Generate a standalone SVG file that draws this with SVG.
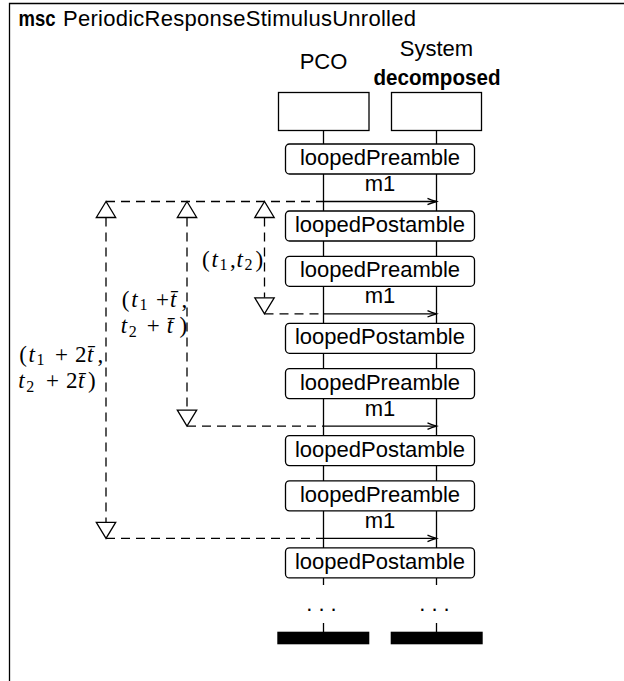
<svg xmlns="http://www.w3.org/2000/svg" width="624" height="681" viewBox="0 0 624 681">
  <style>
    .lbl { font-family: "Liberation Sans", Arial, sans-serif; font-size: 22px; fill: #000; }
    .bold { font-weight: bold; }
    .mid { text-anchor: middle; }
    .math { font-family: "Liberation Serif", "Times New Roman", serif; font-size: 23px; fill: #000; }
    .it { font-style: italic; }
    .sub { font-size: 16px; }
    .line { stroke: #000; stroke-width: 1.3; fill: none; }
    .dash { stroke: #000; stroke-width: 1.3; fill: none; stroke-dasharray: 9 6; }
    .act { fill: #fff; stroke: #000; stroke-width: 1.3; }
    .tri { fill: #fff; stroke: #000; stroke-width: 1.3; stroke-linejoin: miter; }
  </style>
  <defs>
    <marker id="head" markerUnits="userSpaceOnUse" markerWidth="12" markerHeight="10" refX="10" refY="5" orient="auto">
      <path d="M1,1.8 Q5,3.6 10,5 Q5,6.4 1,8.2" fill="none" stroke="#000" stroke-width="1.3"/>
    </marker>
    <!-- timer start / end marks -->
    <path id="tri-up" d="M0,0 L-9.7,16 L9.7,16 Z"/>
    <path id="tri-down" d="M0,0 L-9.7,-16 L9.7,-16 Z"/>
  </defs>

  <rect width="624" height="681" fill="#fff"/>

  <!-- msc frame and title -->
  <g id="frame">
    <path class="line" d="M9.5,681 V3.5 H624"/>
    <text class="lbl bold" x="18.5" y="25.7" textLength="37" lengthAdjust="spacingAndGlyphs">msc</text>
    <text class="lbl" x="63" y="25.7" textLength="353">PeriodicResponseStimulusUnrolled</text>
  </g>

  <!-- instance heads -->
  <g id="instance-pco">
    <text class="lbl mid" x="323.5" y="69.3">PCO</text>
    <rect class="act" x="278.5" y="92.5" width="90.5" height="38"/>
  </g>
  <g id="instance-system">
    <text class="lbl mid" x="436.5" y="56">System</text>
    <text class="lbl bold mid" x="437" y="85" textLength="127" lengthAdjust="spacingAndGlyphs">decomposed</text>
    <rect class="act" x="391.5" y="92.5" width="90" height="38"/>
  </g>

  <!-- connectors: lifelines, messages and timer measures -->
  <g id="connectors">
    <path class="line" d="M323.5,130.5 V585 M323.5,623 V632 M436.5,130.5 V585 M436.5,623 V632"/>

    <path class="line" marker-end="url(#head)" d="M323.5,201.5 H436.5"/>
    <path class="line" marker-end="url(#head)" d="M323.5,313.8 H436.5"/>
    <path class="line" marker-end="url(#head)" d="M323.5,426.1 H436.5"/>
    <path class="line" marker-end="url(#head)" d="M323.5,538.4 H436.5"/>

    <path class="dash" d="M106,201.5 H323.5"/>
    <path class="dash" d="M264.5,313.8 H323.5"/>
    <path class="dash" d="M187,426.1 H323.5"/>
    <path class="dash" d="M106,538.4 H323.5"/>

    <path class="dash" d="M264.5,217.5 V297.8"/>
    <path class="dash" d="M187,217.5 V410.1"/>
    <path class="dash" d="M106,217.5 V522.4"/>
  </g>

  <!-- message labels -->
  <g id="messages">
    <text class="lbl mid" x="380" y="191">m1</text>
    <text class="lbl mid" x="380" y="303.3">m1</text>
    <text class="lbl mid" x="380" y="415.6">m1</text>
    <text class="lbl mid" x="380" y="527.9">m1</text>
  </g>

  <!-- timer measure t1..t2 -->
  <g id="timer-1">
    <use href="#tri-up" class="tri" x="264.5" y="201.5"/>
    <use href="#tri-down" class="tri" x="264.5" y="313.8"/>
    <text class="math" y="266.7"><tspan x="202">(</tspan><tspan class="it" x="211.5">t</tspan><tspan class="sub" x="219.5" dy="3.5">1</tspan><tspan x="230" dy="-3.5">,</tspan><tspan class="it" x="236.5">t</tspan><tspan class="sub" x="244.5" dy="3.5">2</tspan><tspan x="255.5" dy="-3.5">)</tspan></text>
  </g>

  <!-- timer measure shifted by one period -->
  <g id="timer-2">
    <use href="#tri-up" class="tri" x="187" y="201.5"/>
    <use href="#tri-down" class="tri" x="187" y="426.1"/>
    <text class="math" y="306.7"><tspan x="121.7">(</tspan><tspan class="it" x="131.2">t</tspan><tspan class="sub" x="139.5" dy="3.5">1</tspan><tspan x="156" dy="-3.5">+</tspan><tspan class="it" x="170">t&#x304;</tspan><tspan x="181.5">,</tspan></text>
    <text class="math" y="333.3"><tspan class="it" x="120.7">t</tspan><tspan class="sub" x="128.7" dy="3.5">2</tspan><tspan x="146.8" dy="-3.5">+</tspan><tspan class="it" x="166.7">t&#x304;</tspan><tspan x="179.5">)</tspan></text>
  </g>

  <!-- timer measure shifted by two periods -->
  <g id="timer-3">
    <use href="#tri-up" class="tri" x="106" y="201.5"/>
    <use href="#tri-down" class="tri" x="106" y="538.4"/>
    <text class="math" y="361.7"><tspan x="19.3">(</tspan><tspan class="it" x="28.5">t</tspan><tspan class="sub" x="36.5" dy="3.5">1</tspan><tspan x="55" dy="-3.5">+</tspan><tspan x="75">2</tspan><tspan class="it" x="87">t&#x304;</tspan><tspan x="97.5">,</tspan></text>
    <text class="math" y="388.3"><tspan class="it" x="18.3">t</tspan><tspan class="sub" x="26.3" dy="3.5">2</tspan><tspan x="46" dy="-3.5">+</tspan><tspan x="66">2</tspan><tspan class="it" x="78">t&#x304;</tspan><tspan x="88">)</tspan></text>
  </g>

  <!-- actions -->
  <g id="action-pre-1"><rect class="act" x="285.5" y="144" width="189" height="30" rx="4"/><text class="lbl mid" x="380" y="165">loopedPreamble</text></g>
  <g id="action-post-1"><rect class="act" x="285.5" y="211" width="189" height="30" rx="4"/><text class="lbl mid" x="380" y="232">loopedPostamble</text></g>
  <g id="action-pre-2"><rect class="act" x="285.5" y="256.3" width="189" height="30" rx="4"/><text class="lbl mid" x="380" y="277.3">loopedPreamble</text></g>
  <g id="action-post-2"><rect class="act" x="285.5" y="323.3" width="189" height="30" rx="4"/><text class="lbl mid" x="380" y="344.3">loopedPostamble</text></g>
  <g id="action-pre-3"><rect class="act" x="285.5" y="368.6" width="189" height="30" rx="4"/><text class="lbl mid" x="380" y="389.6">loopedPreamble</text></g>
  <g id="action-post-3"><rect class="act" x="285.5" y="435.6" width="189" height="30" rx="4"/><text class="lbl mid" x="380" y="456.6">loopedPostamble</text></g>
  <g id="action-pre-4"><rect class="act" x="285.5" y="480.9" width="189" height="30" rx="4"/><text class="lbl mid" x="380" y="501.9">loopedPreamble</text></g>
  <g id="action-post-4"><rect class="act" x="285.5" y="547.9" width="189" height="30" rx="4"/><text class="lbl mid" x="380" y="568.9">loopedPostamble</text></g>

  <!-- continuation dots and instance ends -->
  <g id="end-pco">
    <text class="lbl mid" x="324.5" y="610.5" letter-spacing="6">...</text>
    <rect x="277.3" y="631.7" width="92" height="12.6" fill="#000"/>
  </g>
  <g id="end-system">
    <text class="lbl mid" x="437.5" y="610.5" letter-spacing="6">...</text>
    <rect x="390.7" y="631.7" width="92" height="12.6" fill="#000"/>
  </g>
</svg>
